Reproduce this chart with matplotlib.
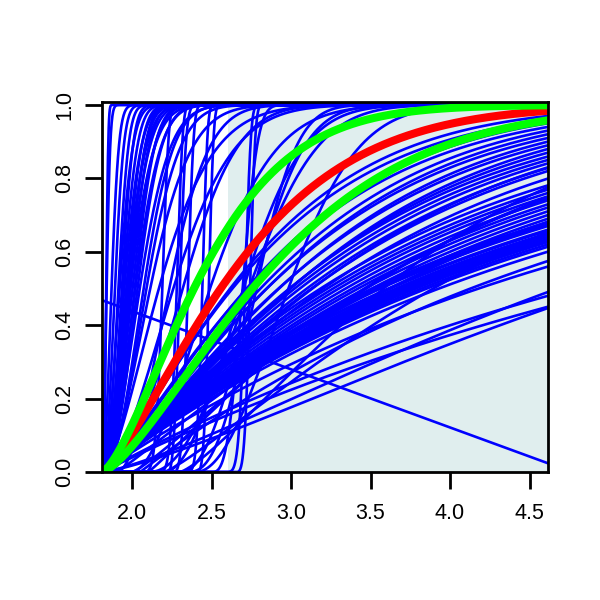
import numpy as np
import matplotlib
matplotlib.use("Agg")
from matplotlib import pyplot as plt

plt.rcParams['font.family'] = ['Liberation Sans', 'DejaVu Sans']

# limiti degli assi
x_min, x_max = 1.81, 4.615
y_max = 1.008
inizio_ombra = 2.6

x_ticks = [2.0, 2.5, 3.0, 3.5, 4.0, 4.5]
y_ticks = [0.0, 0.2, 0.4, 0.6, 0.8, 1.0]

# curve blu (weibull spostate): partenza, scala, forma
# ventaglio dall'angolo in basso a sinistra
ventaglio_scala = [4.69, 4.29, 3.42, 3.06, 2.95, 2.90, 2.85, 2.82, 2.78, 2.74, 2.70, 2.67, 2.62, 2.60, 2.53, 2.50, 2.46,
                   2.43, 2.37, 2.31, 2.25, 2.20, 2.14, 2.08, 2.03, 1.98, 1.92,
                   1.89, 1.79, 1.75, 1.69, 1.645, 1.60,
                   1.775, 1.586, 1.489, 1.389, 1.226, 1.101,
                   4.2, 3.8, 1.574, 1.477, 1.375, 1.322, 1.206, 1.069]
ventaglio_forma = [1.0] * 17 + [1.1] * 10 + [1.2] * 6 + [1.25] * 6 + [1.3] * 8

# curve che partono piu' tardi e salgono piano
tarde_inizio = [1.9, 2.0, 2.05, 2.1, 2.2, 2.3]
tarde_scala = [2.4, 2.0, 3.0, 1.9, 2.3, 1.7]
tarde_forma = [1.1, 1.2, 1.0, 1.1, 1.2, 1.3]

# curve ripide vicino all'asse
ripide_scala = [0.035, 0.03, 0.072, 0.096, 0.12, 0.132, 0.144, 0.156, 0.168, 0.18, 0.186, 0.192, 0.198, 0.204,
                0.21, 0.216, 0.228, 0.24, 0.252, 0.264, 0.288, 0.312, 0.336, 0.372,
                0.45, 0.55, 0.6]
ripide_forma = [2.0, 3.0, 2.0, 2.2, 2.4, 2.0, 2.6, 2.2, 2.0, 2.4, 1.9, 2.2, 2.5, 2.0,
                2.3, 1.8, 2.1, 2.4, 2.0, 2.2, 1.9, 2.1, 2.0, 1.8,
                1.6, 1.8, 2.2]

# curve intermedie e a gradino
medie_inizio = [1.9, 2.0, 2.1, 2.2, 2.3, 2.35, 2.4,
                2.05, 2.15, 2.22, 2.25, 2.33, 2.40, 2.5, 2.58, 2.65]
medie_scala = [0.4, 0.6, 0.75, 0.6, 0.55, 0.5, 0.7,
               0.15, 0.14, 0.09, 0.11, 0.12, 0.09, 0.22, 0.14, 0.10]
medie_forma = [2.0, 1.8, 2.2, 2.0, 2.2, 2.5, 2.0,
               5, 5, 3, 4, 5, 4, 3, 5, 4]

# retta discendente
retta_x = [1.81, 4.615]
retta_y = [0.468, 0.024]

# curve spesse
rosso = (1.81, 0.98, 1.35)
verdi = [(1.81, 0.745, 1.45), (1.81, 1.23, 1.4)]


def cdf(x, x0, scala, forma):
    t = np.clip(x - x0, 0, None)
    return 1 - np.exp(-(t / scala) ** forma)


blu_inizio = [x_min] * len(ventaglio_scala) + tarde_inizio + [x_min] * len(ripide_scala) + medie_inizio
blu_scala = ventaglio_scala + tarde_scala + ripide_scala + medie_scala
blu_forma = ventaglio_forma + tarde_forma + ripide_forma + medie_forma

x = np.linspace(x_min, x_max, 1200)

fig = plt.figure(figsize=(6, 6), dpi=100)
ax = fig.add_axes([0.17, 0.2133, 0.743, 0.6167])
ax.axvspan(inizio_ombra, x_max, color="#E0EEEE", lw=0, zorder=0)

for x0, s, k in zip(blu_inizio, blu_scala, blu_forma):
    ax.plot(x, cdf(x, x0, s, k), color="blue", lw=1.9)
ax.plot(retta_x, retta_y, color="blue", lw=1.9)

ax.plot(x, cdf(x, *rosso), color="red", lw=5.8)
for v in verdi:
    ax.plot(x, cdf(x, *v), color="#00FF00", lw=5.8)

ax.set_xlim(x_min, x_max)
ax.set_ylim(0, y_max)
ax.set_xticks(x_ticks)
ax.set_xticklabels(["%.1f" % v for v in x_ticks])
ax.set_yticks(y_ticks)
ax.set_yticklabels(["%.1f" % v for v in y_ticks], rotation=90, va="center")
ax.tick_params(direction="out", length=12, width=2, labelsize=15.5)
ax.tick_params(axis="x", pad=10)
ax.tick_params(axis="y", pad=7)
for sp in ax.spines.values():
    sp.set_linewidth(2)
    sp.set_zorder(5)

plt.savefig("out.png", dpi=100)
